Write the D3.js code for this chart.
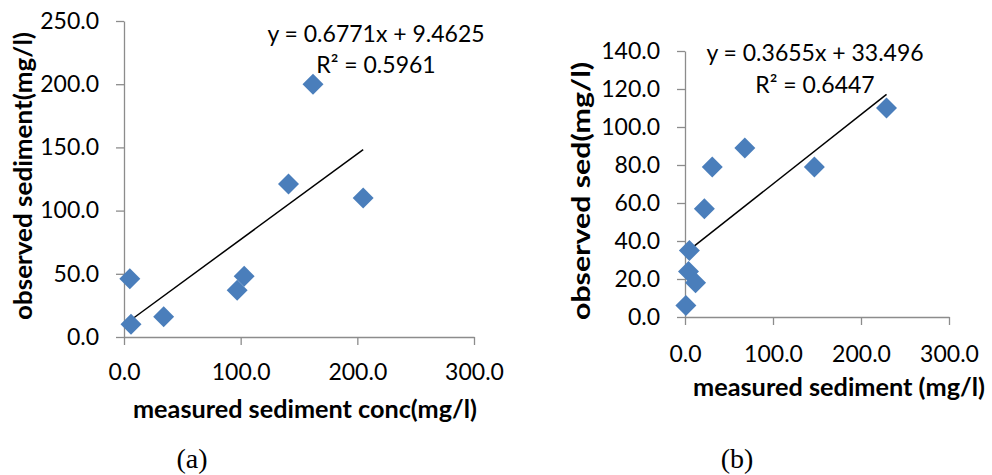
<!DOCTYPE html>
<html>
<head>
<meta charset="utf-8">
<script src="https://cdn.jsdelivr.net/npm/d3@7"></script>
<style>
  html, body { margin: 0; padding: 0; background: #fff; }
  svg { display: block; }
  .tick text { font-family: Lato, "Open Sans", sans-serif; font-size: 23px; fill: #000; }
  .title { font-family: Lato, "Open Sans", sans-serif; font-weight: bold; font-size: 25px; fill: #000; }
  .eq { font-family: Lato, "Open Sans", sans-serif; font-size: 23px; fill: #000; }
  .cap { font-family: "Liberation Serif", "Times New Roman", serif; font-size: 28px; fill: #000; }
</style>
</head>
<body>
<svg id="chart" width="992" height="475"></svg>
<script>
// Panel (a): measured sediment concentration vs observed sediment
const measuredA = [5, 6, 34, 97, 103, 141, 162, 205];
const observedA = [46, 10, 16, 37, 48, 121, 200, 110];
const slopeA = 0.6771, interceptA = 9.4625, r2A = "0.5961";
const xTicksA = [0, 100, 200, 300];
const yTicksA = [0, 50, 100, 150, 200, 250];

// Panel (b): measured sediment vs observed sed
const measuredB = [1, 4, 12, 5, 22, 31, 68, 147, 229];
const observedB = [6, 24, 18, 35, 57, 79, 89, 79, 110];
const slopeB = 0.3655, interceptB = 33.496, r2B = "0.6447";
const xTicksB = [0, 100, 200, 300];
const yTicksB = [0, 20, 40, 60, 80, 100, 120, 140];

const svg = d3.select("#chart");
const fmt = d3.format(".1f");
const markerColor = "#4a7ebb";
const axisColor = "#8c8c8c";

function panel(cfg) {
  const g = svg.append("g");
  const x = d3.scaleLinear().domain([0, 300]).range(cfg.xRange);
  const y = d3.scaleLinear().domain(cfg.yDomain).range(cfg.yRange);

  // axes
  const gx = g.append("g")
    .attr("transform", `translate(0,${cfg.yRange[0]})`)
    .call(d3.axisBottom(x).tickValues(cfg.xTicks).tickFormat(fmt).tickSize(8).tickSizeOuter(0));
  gx.selectAll(".tick text").attr("y", cfg.xLabelOffset).attr("dy", 0);

  const gy = g.append("g")
    .attr("transform", `translate(${cfg.xRange[0]},0)`)
    .call(d3.axisLeft(y).tickValues(cfg.yTicks).tickFormat(fmt).tickSize(8).tickPadding(17).tickSizeOuter(0));

  [gx, gy].forEach(a => {
    a.select(".domain").attr("stroke", axisColor).attr("stroke-width", 1.3);
    a.selectAll(".tick line").attr("stroke", axisColor).attr("stroke-width", 1.3);
  });

  // trend line over the range of measured values
  const x0 = d3.min(cfg.xs), x1 = d3.max(cfg.xs);
  const line = d3.line().x(d => x(d[0])).y(d => y(d[1]));
  g.append("path")
    .attr("d", line([[x0, cfg.slope * x0 + cfg.intercept], [x1, cfg.slope * x1 + cfg.intercept]]))
    .attr("stroke", "#000").attr("stroke-width", 1.5).attr("fill", "none");

  // diamond markers
  const diamond = d3.symbol().type(d3.symbolSquare).size(220);
  g.selectAll("path.pt")
    .data(cfg.xs.map((v, i) => [v, cfg.ys[i]]))
    .join("path")
    .attr("class", "pt")
    .attr("d", diamond)
    .attr("transform", d => `translate(${x(d[0])},${y(d[1])}) rotate(45)`)
    .attr("fill", markerColor);

  // regression equation
  g.append("text").attr("class", "eq")
    .attr("x", cfg.eqX).attr("y", cfg.eqY[0]).attr("text-anchor", "middle")
    .text(`y = ${cfg.slope}x + ${cfg.intercept}`);
  g.append("text").attr("class", "eq")
    .attr("x", cfg.eqX).attr("y", cfg.eqY[1]).attr("text-anchor", "middle")
    .text(`R² = ${cfg.r2}`);

  // axis titles
  g.append("text").attr("class", "title")
    .attr("x", cfg.xTitle[0]).attr("y", cfg.xTitle[1]).attr("text-anchor", "middle")
    .attr("textLength", cfg.xTitle[2]).attr("lengthAdjust", "spacingAndGlyphs")
    .text(cfg.xTitleText);
  g.append("text").attr("class", "title")
    .attr("transform", `translate(${cfg.yTitle[0]},${cfg.yTitle[1]}) rotate(-90)`)
    .attr("text-anchor", "middle")
    .attr("textLength", cfg.yTitle[2]).attr("lengthAdjust", "spacingAndGlyphs")
    .text(cfg.yTitleText);

  // caption
  g.append("text").attr("class", "cap")
    .attr("x", cfg.cap[0]).attr("y", cfg.cap[1]).attr("text-anchor", "middle")
    .text(cfg.capText);
}

panel({
  xs: measuredA, ys: observedA, slope: slopeA, intercept: interceptA, r2: r2A,
  xTicks: xTicksA, yTicks: yTicksA,
  xRange: [124, 474], yDomain: [0, 250], yRange: [337, 21], xLabelOffset: 43,
  eqX: 376, eqY: [42, 73],
  xTitle: [305, 418, 344], xTitleText: "measured sediment conc(mg/l)",
  yTitle: [32, 176, 288], yTitleText: "observed sediment(mg/l)",
  cap: [192, 468], capText: "(a)"
});

panel({
  xs: measuredB, ys: observedB, slope: slopeB, intercept: interceptB, r2: r2B,
  xTicks: xTicksB, yTicks: yTicksB,
  xRange: [685, 949], yDomain: [0, 140], yRange: [317, 51], xLabelOffset: 45,
  eqX: 815, eqY: [61, 93],
  xTitle: [839, 396, 292], xTitleText: "measured sediment (mg/l)",
  yTitle: [590, 191, 258], yTitleText: "observed sed(mg/l)",
  cap: [737, 468], capText: "(b)"
});
</script>
</body>
</html>
